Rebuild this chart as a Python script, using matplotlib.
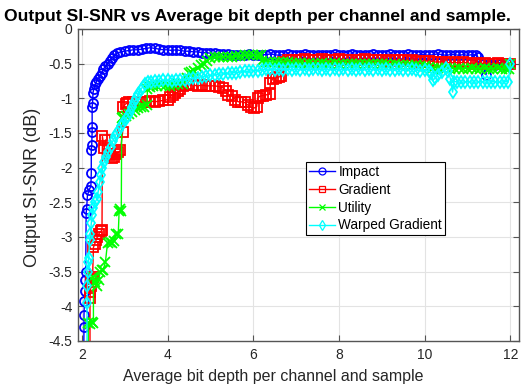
import matplotlib
matplotlib.use("Agg")
import matplotlib.pyplot as plt

plt.rcParams['font.family'] = ['Liberation Sans', 'DejaVu Sans']

# ---------------- data ----------------
title_text = "Output SI-SNR vs Average bit depth per channel and sample."
xlabel_text = "Average bit depth per channel and sample"
ylabel_text = "Output SI-SNR (dB)"

series_names = ["Impact", "Gradient", "Utility", "Warped Gradient"]

x_ticks = [2, 4, 6, 8, 10, 12]
x_tick_labels = ["2", "4", "6", "8", "10", "12"]
y_ticks = [0, -0.5, -1, -1.5, -2, -2.5, -3, -3.5, -4, -4.5]
y_tick_labels = ["0", "-0.5", "-1", "-1.5", "-2", "-2.5", "-3", "-3.5", "-4", "-4.5"]

impact_x = [
    2.04, 2.05, 2.05, 2.06, 2.07, 2.08, 2.09, 2.10, 2.11, 2.13, 2.17, 2.21,
    2.22, 2.22, 2.23, 2.24, 2.24, 2.24, 2.25, 2.26, 2.28, 2.31, 2.34, 2.38,
    2.42, 2.46, 2.50, 2.55, 2.60, 2.65, 2.70, 2.76, 2.82, 2.90, 3.00, 3.10,
    3.20, 3.30, 3.40, 3.50, 3.60, 3.70, 3.80, 3.90, 4.00, 4.10, 4.20, 4.30,
    4.40, 4.50, 4.60, 4.70, 4.80, 4.90, 5.00, 5.10, 5.20, 5.30, 5.40, 5.50,
    5.60, 5.70, 5.80, 5.90, 6.00, 6.10, 6.20, 6.30, 6.40, 6.50, 6.60, 6.70,
    6.80, 6.90, 7.00, 7.10, 7.20, 7.30, 7.40, 7.50, 7.60, 7.70, 7.80, 7.90,
    8.00, 8.10, 8.20, 8.30, 8.40, 8.50, 8.60, 8.70, 8.80, 8.90, 9.00, 9.10,
    9.20, 9.30, 9.40, 9.50, 9.60, 9.70, 9.80, 9.90, 10.00, 10.10, 10.20, 10.30,
    10.40, 10.50, 10.60, 10.70, 10.80, 10.90, 11.00, 11.10, 11.20, 11.25, 11.30, 11.35,
    11.43, 11.47, 11.55, 11.65, 11.75, 11.85, 11.95, 12.00]
impact_y = [
    -4.80, -4.30, -4.12, -3.92, -3.78, -3.62, -3.50, -2.66, -2.60, -2.40, -2.32, -2.27,
    -2.08, -1.75, -1.68, -1.48, -1.42, -1.12, -1.07, -0.92, -0.86, -0.80, -0.76, -0.72,
    -0.68, -0.64, -0.58, -0.54, -0.50, -0.46, -0.42, -0.38, -0.35, -0.33, -0.32, -0.31,
    -0.30, -0.30, -0.29, -0.28, -0.27, -0.28, -0.29, -0.30, -0.30, -0.31, -0.30, -0.31,
    -0.32, -0.32, -0.33, -0.33, -0.34, -0.34, -0.35, -0.35, -0.36, -0.36, -0.36, -0.37,
    -0.37, -0.38, -0.37, -0.36, -0.37, -0.38, -0.37, -0.37, -0.36, -0.37, -0.38, -0.37,
    -0.36, -0.37, -0.38, -0.37, -0.36, -0.37, -0.38, -0.37, -0.37, -0.38, -0.37, -0.36,
    -0.37, -0.38, -0.37, -0.36, -0.37, -0.38, -0.37, -0.37, -0.36, -0.37, -0.38, -0.37,
    -0.36, -0.37, -0.38, -0.37, -0.36, -0.37, -0.38, -0.37, -0.37, -0.38, -0.37, -0.36,
    -0.37, -0.38, -0.37, -0.37, -0.38, -0.37, -0.38, -0.37, -0.38, -0.41, -0.48, -0.51,
    -0.66, -0.52, -0.51, -0.52, -0.51, -0.52, -0.51, -0.50]

gradient_x = [
    2.19, 2.19, 2.20, 2.21, 2.22, 2.25, 2.27, 2.30, 2.33, 2.36, 2.40, 2.44,
    2.47, 2.48, 2.52, 2.55, 2.60, 2.65, 2.70, 2.75, 2.80, 2.85, 2.90, 2.95,
    2.97, 3.02, 3.06, 3.10, 3.20, 3.30, 3.40, 3.50, 3.60, 3.70, 3.80, 3.90,
    4.00, 4.06, 4.12, 4.18, 4.25, 4.30, 4.35, 4.42, 4.50, 4.60, 4.70, 4.80,
    4.90, 5.00, 5.10, 5.20, 5.30, 5.36, 5.42, 5.50, 5.58, 5.65, 5.72, 5.80,
    5.88, 5.95, 6.02, 6.08, 6.10, 6.15, 6.22, 6.30, 6.38, 6.40, 6.45, 6.52,
    6.60, 6.65, 6.70, 6.80, 6.90, 7.00, 7.10, 7.20, 7.30, 7.40, 7.50, 7.60,
    7.70, 7.80, 7.90, 8.00, 8.10, 8.20, 8.30, 8.40, 8.50, 8.60, 8.70, 8.80,
    8.90, 9.00, 9.10, 9.20, 9.30, 9.40, 9.50, 9.60, 9.70, 9.80, 9.90, 10.00,
    10.10, 10.20, 10.30, 10.40, 10.50, 10.60, 10.70, 10.80, 10.90, 11.00, 11.10, 11.20,
    11.30, 11.40, 11.50, 11.60, 11.70, 11.80, 11.90, 12.00]
gradient_y = [
    -4.80, -3.88, -3.80, -3.70, -3.60, -3.58, -3.15, -3.10, -3.05, -3.00, -2.95, -2.92,
    -2.90, -1.55, -1.72, -1.60, -1.80, -1.82, -1.86, -1.84, -1.80, -1.78, -1.75, -1.49,
    -1.12, -1.08, -1.07, -1.06, -1.05, -1.05, -1.06, -1.05, -1.04, -1.05, -1.04, -1.03,
    -1.02, -0.98, -0.95, -0.93, -0.90, -0.86, -0.82, -0.81, -0.80, -0.81, -0.82, -0.81,
    -0.82, -0.82, -0.82, -0.83, -0.85, -0.90, -0.95, -0.96, -1.02, -1.05, -1.05, -1.06,
    -1.10, -1.13, -1.14, -1.12, -1.00, -0.97, -0.96, -0.95, -0.94, -0.78, -0.72, -0.70,
    -0.69, -0.68, -0.48, -0.45, -0.44, -0.45, -0.44, -0.43, -0.44, -0.45, -0.44, -0.43,
    -0.44, -0.45, -0.44, -0.43, -0.44, -0.45, -0.44, -0.45, -0.44, -0.43, -0.44, -0.45,
    -0.45, -0.44, -0.45, -0.46, -0.45, -0.44, -0.45, -0.46, -0.45, -0.46, -0.47, -0.46,
    -0.46, -0.47, -0.48, -0.47, -0.48, -0.49, -0.48, -0.49, -0.48, -0.49, -0.50, -0.49,
    -0.50, -0.49, -0.50, -0.50, -0.49, -0.50, -0.50, -0.50]

utility_x = [
    2.15, 2.15, 2.19, 2.23, 2.27, 2.27, 2.31, 2.35, 2.39, 2.43, 2.47, 2.50,
    2.55, 2.60, 2.65, 2.70, 2.75, 2.80, 2.85, 2.87, 2.90, 2.92, 2.93, 2.97,
    3.02, 3.10, 3.18, 3.25, 3.32, 3.38, 3.45, 3.52, 3.53, 3.58, 3.65, 3.75,
    3.85, 3.95, 4.05, 4.15, 4.25, 4.35, 4.45, 4.50, 4.55, 4.62, 4.70, 4.78,
    4.85, 4.92, 5.00, 5.10, 5.20, 5.30, 5.40, 5.50, 5.60, 5.70, 5.80, 5.90,
    6.00, 6.10, 6.18, 6.20, 6.30, 6.40, 6.50, 6.60, 6.70, 6.80, 6.90, 7.00,
    7.10, 7.20, 7.30, 7.40, 7.50, 7.60, 7.70, 7.80, 7.90, 8.00, 8.10, 8.20,
    8.30, 8.40, 8.50, 8.60, 8.70, 8.80, 8.90, 9.00, 9.10, 9.20, 9.30, 9.40,
    9.50, 9.60, 9.70, 9.80, 9.90, 10.00, 10.10, 10.20, 10.30, 10.40, 10.50, 10.60,
    10.70, 10.80, 10.90, 11.00, 11.10, 11.20, 11.30, 11.40, 11.50, 11.60, 11.70, 11.80,
    11.90, 11.96, 12.00]
utility_y = [
    -4.80, -4.24, -4.25, -4.23, -4.24, -3.58, -3.65, -3.70, -3.62, -3.50, -3.48, -3.47,
    -3.36, -3.08, -3.07, -3.08, -3.06, -2.96, -2.95, -2.62, -2.60, -2.62, -1.28, -1.27,
    -1.25, -1.22, -1.20, -1.17, -1.14, -1.13, -1.12, -1.10, -0.86, -0.84, -0.82, -0.82,
    -0.81, -0.82, -0.82, -0.81, -0.80, -0.79, -0.70, -0.64, -0.62, -0.60, -0.56, -0.52,
    -0.50, -0.46, -0.42, -0.41, -0.41, -0.40, -0.40, -0.40, -0.39, -0.39, -0.38, -0.38,
    -0.38, -0.38, -0.38, -0.46, -0.47, -0.47, -0.48, -0.48, -0.48, -0.48, -0.49, -0.49,
    -0.49, -0.50, -0.49, -0.50, -0.50, -0.49, -0.50, -0.50, -0.49, -0.50, -0.50, -0.51,
    -0.50, -0.50, -0.51, -0.50, -0.51, -0.51, -0.50, -0.51, -0.51, -0.52, -0.51, -0.52,
    -0.52, -0.52, -0.53, -0.52, -0.53, -0.54, -0.55, -0.56, -0.56, -0.57, -0.56, -0.57,
    -0.57, -0.56, -0.57, -0.57, -0.56, -0.57, -0.57, -0.56, -0.57, -0.57, -0.56, -0.57,
    -0.57, -0.57, -0.50]

warped_x = [
    2.12, 2.12, 2.13, 2.14, 2.15, 2.16, 2.18, 2.20, 2.22, 2.24, 2.27, 2.31,
    2.35, 2.38, 2.42, 2.45, 2.48, 2.52, 2.57, 2.62, 2.67, 2.72, 2.77, 2.82,
    2.87, 2.92, 2.97, 3.02, 3.07, 3.12, 3.17, 3.22, 3.27, 3.32, 3.37, 3.42,
    3.48, 3.55, 3.62, 3.70, 3.80, 3.90, 4.00, 4.10, 4.20, 4.30, 4.40, 4.50,
    4.60, 4.70, 4.80, 4.90, 5.00, 5.10, 5.20, 5.30, 5.40, 5.50, 5.60, 5.70,
    5.80, 5.90, 6.00, 6.10, 6.20, 6.30, 6.40, 6.50, 6.60, 6.70, 6.80, 6.90,
    7.00, 7.10, 7.20, 7.30, 7.40, 7.50, 7.60, 7.70, 7.80, 7.90, 8.00, 8.10,
    8.20, 8.30, 8.40, 8.50, 8.60, 8.70, 8.80, 8.90, 9.00, 9.10, 9.20, 9.30,
    9.40, 9.50, 9.60, 9.70, 9.80, 9.90, 10.00, 10.10, 10.15, 10.20, 10.25, 10.30,
    10.40, 10.50, 10.55, 10.60, 10.65, 10.68, 10.75, 10.85, 10.95, 11.05, 11.15, 11.25,
    11.35, 11.45, 11.55, 11.65, 11.75, 11.85, 11.95, 12.00]
warped_y = [
    -4.80, -3.95, -3.70, -3.50, -3.36, -3.30, -3.05, -2.95, -2.80, -2.68, -2.58, -2.50,
    -2.45, -2.35, -2.20, -2.10, -2.00, -1.92, -1.85, -1.78, -1.70, -1.62, -1.55, -1.50,
    -1.45, -1.40, -1.36, -1.30, -1.25, -1.20, -1.12, -1.06, -1.00, -0.94, -0.88, -0.83,
    -0.80, -0.77, -0.76, -0.75, -0.75, -0.74, -0.74, -0.75, -0.74, -0.74, -0.73, -0.72,
    -0.71, -0.70, -0.69, -0.68, -0.67, -0.66, -0.65, -0.65, -0.64, -0.63, -0.63, -0.62,
    -0.61, -0.61, -0.60, -0.60, -0.59, -0.58, -0.58, -0.59, -0.58, -0.59, -0.58, -0.59,
    -0.58, -0.59, -0.58, -0.59, -0.58, -0.58, -0.59, -0.58, -0.59, -0.58, -0.59, -0.58,
    -0.59, -0.58, -0.59, -0.58, -0.59, -0.58, -0.59, -0.58, -0.59, -0.58, -0.59, -0.59,
    -0.58, -0.59, -0.59, -0.58, -0.59, -0.60, -0.59, -0.61, -0.63, -0.74, -0.70, -0.66,
    -0.62, -0.56, -0.60, -0.72, -0.91, -0.76, -0.76, -0.77, -0.76, -0.76, -0.77, -0.76,
    -0.76, -0.77, -0.76, -0.76, -0.77, -0.76, -0.76, -0.50]

# ---------------- figure ----------------
W, H = 521, 387
fig = plt.figure(figsize=(W / 100, H / 100), dpi=100)
ax = fig.add_axes([78 / W, 1 - 341 / H, 441 / W, 312 / H])

styles = [
    dict(color=(0, 0, 1), marker='o', mfc='none'),
    dict(color=(1, 0, 0), marker='s', mfc='none'),
    dict(color=(0, 1, 0), marker='x'),
    dict(color=(0, 1, 1), marker='d', mfc='none'),
]
data = [(impact_x, impact_y), (gradient_x, gradient_y),
        (utility_x, utility_y), (warped_x, warped_y)]

for (xs, ys), name, st in zip(data, series_names, styles):
    ax.plot(xs, ys, label=name, lw=1.0, ms=6.5, mew=1.3, **st)

ax.set_xlim(1.91, 12.2)
ax.set_ylim(-4.5, 0)
ax.set_xticks(x_ticks)
ax.set_xticklabels(x_tick_labels)
ax.set_yticks(y_ticks)
ax.set_yticklabels(y_tick_labels)

axis_col = '#262626'
ax.grid(True, color='#e3e3e3', lw=0.8)
ax.set_axisbelow(True)
for s in ax.spines.values():
    s.set_color('#555555')
    s.set_linewidth(1.0)
ax.tick_params(axis='both', direction='in', length=4, width=0.8, color='#555555',
               labelsize=10, labelcolor=axis_col, top=True, right=True)
ax.tick_params(axis='x', pad=5)
ax.tick_params(axis='y', pad=4)

fig.text(4 / W, 1 - 21 / H, title_text, fontsize=12.6, fontweight='bold',
         ha='left', va='baseline', color='black')
fig.text(273.5 / W, 1 - 381 / H, xlabel_text, fontsize=11.5, ha='center',
         va='baseline', color=axis_col)
fig.text(37 / W, 1 - 187 / H, ylabel_text, fontsize=13, ha='center',
         va='baseline', rotation=90, rotation_mode='anchor', color=axis_col)

leg = ax.legend(loc='upper left', bbox_to_anchor=(0.517, 0.574),
                borderaxespad=0, fontsize=9.8, frameon=True, fancybox=False,
                edgecolor='black', framealpha=1, borderpad=0.22,
                labelspacing=0.28, handlelength=1.9, handletextpad=0.25)
leg.get_frame().set_linewidth(0.8)
for h in leg.legend_handles:
    h.set_markersize(5)
    h.set_markeredgewidth(0.9)

fig.savefig('out.png', dpi=100)
